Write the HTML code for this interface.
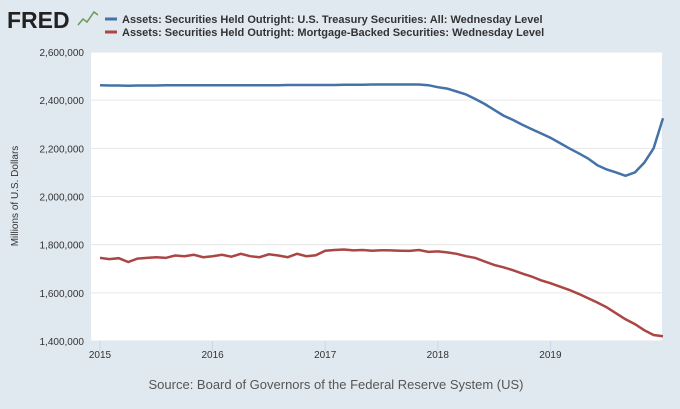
<!DOCTYPE html>
<html><head><meta charset="utf-8"><style>
body{margin:0;background:#e1e9f0;font-family:"Liberation Sans",sans-serif;}
svg{display:block}
</style></head><body>
<svg width="680" height="409" id="c">
<rect x="0" y="0" width="680" height="409" fill="#e1e9f0"/>
<text x="7" y="28" font-size="23" font-weight="900" fill="#222">FRED</text>
<polyline points="78,25 83,19 87,22 94,12 98,15" fill="none" stroke="#6a9a5a" stroke-width="1.5"/>
<line x1="105" y1="19" x2="117" y2="19" stroke="#4572a7" stroke-width="3"/>
<text x="122" y="23" font-size="11" font-weight="bold" fill="#333">Assets: Securities Held Outright: U.S. Treasury Securities: All: Wednesday Level</text>
<line x1="105" y1="32" x2="117" y2="32" stroke="#aa4643" stroke-width="3"/>
<text x="122" y="36" font-size="11" font-weight="bold" fill="#333">Assets: Securities Held Outright: Mortgage-Backed Securities: Wednesday Level</text>
<rect x="91" y="52" width="571" height="289" fill="#fff"/>
<g id="grid"></g><g id="series"></g>
<text x="18" y="196" font-size="10" fill="#333" transform="rotate(-90 18 196)" text-anchor="middle">Millions of U.S. Dollars</text>
<text x="336" y="389" font-size="13" fill="#555" text-anchor="middle">Source: Board of Governors of the Federal Reserve System (US)</text>
</svg>
<script>
const yTicks=[1400000,1600000,1800000,2000000,2200000,2400000,2600000];
const xTicks=[2015,2016,2017,2018,2019];
const treasury=[2462,2461,2461,2460,2461,2461,2461,2462,2462,2462,2462,2462,
2462,2462,2462,2462,2462,2462,2462,2462,2463,2463,2463,2463,
2463,2463,2464,2464,2464,2465,2465,2465,2465,2465,2465,2462,
2454,2448,2436,2424,2405,2384,2360,2336,2318,2298,2280,2262,
2244,2222,2200,2180,2158,2130,2112,2100,2086,2100,2140,2200,2325];
const mbs=[1745,1740,1744,1728,1742,1745,1748,1745,1755,1752,1758,1748,
1752,1758,1750,1762,1752,1748,1760,1755,1748,1762,1752,1756,
1775,1778,1780,1776,1778,1775,1777,1776,1775,1774,1778,1770,
1772,1768,1762,1752,1745,1730,1716,1706,1694,1680,1668,1652,
1640,1626,1612,1596,1578,1560,1540,1515,1490,1470,1445,1425,1420];
const X0=91,X1=662,Y0=341,Y1=52;
const xs=t=>100+(t-2015)*112.6;
const ys=v=>Y0-(v-1400000)/1200000*(Y0-Y1);
const ns="http://www.w3.org/2000/svg";
const grid=document.getElementById('grid'),ser=document.getElementById('series');
yTicks.forEach(v=>{
 const l=document.createElementNS(ns,'line');
 l.setAttribute('x1',X0);l.setAttribute('x2',X1);l.setAttribute('y1',ys(v));l.setAttribute('y2',ys(v));
 l.setAttribute('stroke','#e6e6e6');
 
 
 grid.appendChild(l);
 const t=document.createElementNS(ns,'text');
 t.setAttribute('x',84);t.setAttribute('y',ys(v)+4);t.setAttribute('text-anchor','end');
 t.setAttribute('font-size','10');t.setAttribute('fill','#333');
 t.textContent=v.toLocaleString('en-US');
 
 
 grid.appendChild(t);
});
xTicks.forEach(y=>{
 const l=document.createElementNS(ns,'line');
 l.setAttribute('x1',xs(y));l.setAttribute('x2',xs(y));l.setAttribute('y1',Y0);l.setAttribute('y2',Y0+10);
 l.setAttribute('stroke','#ccd6eb');
 
 
 grid.appendChild(l);
 const t=document.createElementNS(ns,'text');
 t.setAttribute('x',xs(y));t.setAttribute('y',Y0+17);t.setAttribute('text-anchor','middle');
 t.setAttribute('font-size','10');t.setAttribute('fill','#333');
 t.textContent=y;
 
 
 grid.appendChild(t);
});
function draw(arr,color,name){
 const pts=arr.map((v,i)=>xs(2015+i/12).toFixed(1)+','+ys(v*1000).toFixed(1)).join(' ');
 const p=document.createElementNS(ns,'polyline');
 p.setAttribute('points',pts);p.setAttribute('fill','none');p.setAttribute('stroke',color);p.setAttribute('stroke-width','2.5');
 
 
 ser.appendChild(p);
}
draw(treasury,'#4572a7','treasury-line');
draw(mbs,'#aa4643','mbs-line');
</script>
</body></html>
